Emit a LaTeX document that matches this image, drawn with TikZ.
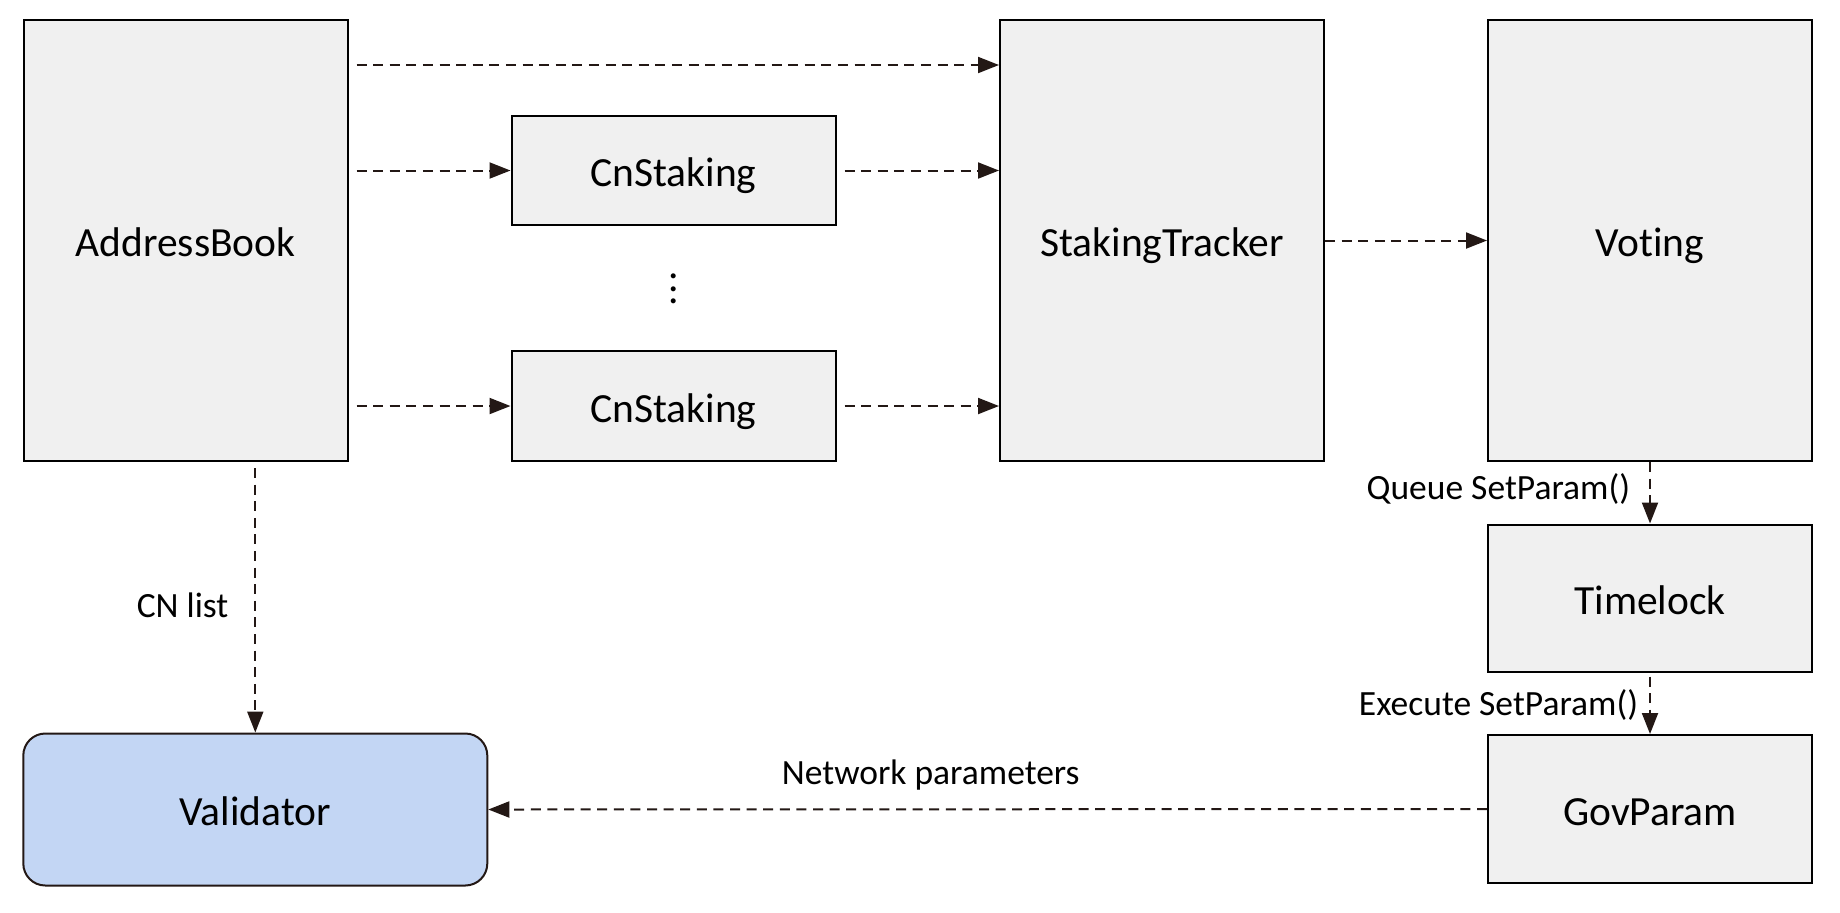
\documentclass[tikz,border=0pt]{standalone}
\usepackage{fontspec}
\setmainfont{Carlito}[Ligatures=NoCommon]
\usetikzlibrary{arrows.meta}
\definecolor{boxgray}{RGB}{240,240,240}
\definecolor{valblue}{RGB}{195,214,244}
\definecolor{arrowdark}{RGB}{35,24,21}

\begin{document}
\begin{tikzpicture}[x=0.5pt, y=-0.5pt,
    contract/.style={draw=black, fill=boxgray, line width=1pt, minimum width=162pt,
        font=\fontsize{20.75}{25}\selectfont, text height=16pt, text depth=0pt, inner sep=0pt},
    flow/.style={draw=arrowdark, line width=1pt, dash pattern=on 5pt off 3.3pt,
        -{Triangle[length=10.5pt,width=8pt]}},
    lbl/.style={font=\fontsize{17.75}{21}\selectfont, inner sep=0pt}]
    \useasboundingbox (0,0) rectangle (1840,912);

    % Contracts
    \node[contract, minimum height=220.5pt] (addr) at (185.5,240.5) {AddressBook};
    \node[contract, minimum height=54.5pt] (cnA) at (673.5,170.5) {CnStaking};
    \node[contract, minimum height=55pt] (cnB) at (673.5,406) {CnStaking};
    \node[font=\fontsize{20.75}{25}\selectfont, inner sep=0pt] (dots) at (674,289)
        {\vbox{\baselineskip=6.25pt\hbox{.}\hbox{.}\hbox{.}}};
    \node[contract, minimum height=220.5pt] (tracker) at (1162,240.5) {StakingTracker};
    \node[contract, minimum height=220.5pt] (voting) at (1650,240.5) {Voting};
    \node[contract, minimum height=73.5pt] (timelock) at (1650,598) {Timelock};
    \node[contract, minimum height=74pt] (govparam) at (1650,809) {GovParam};

    % Node
    \node[contract, draw=arrowdark, fill=valblue, rounded corners=11pt,
        minimum width=232pt, minimum height=76pt] (validator) at (255.3,809.5) {Validator};

    % Staking info
    \draw[flow, shorten <=4pt] ([yshift=-23pt]addr.north east) -- ([yshift=-23pt]tracker.north west);
    \draw[flow, shorten <=4pt] (addr.east |- cnA) -- (cnA.west);
    \draw[flow, shorten <=4pt] (addr.east |- cnB) -- (cnB.west);
    \draw[flow, shorten <=4pt] (cnA.east) -- (cnA -| tracker.west);
    \draw[flow, shorten <=4pt] (cnB.east) -- (cnB -| tracker.west);
    \draw[flow] (tracker.east) -- (voting.west);

    % Governance
    \draw[flow] (voting.south) -- node[lbl, pos=0.61, anchor=base east, xshift=-9.5pt] {Queue SetParam()} (timelock.north);
    \draw[flow, shorten <=2pt] (timelock.south) -- node[lbl, pos=0.70, anchor=base east, xshift=-5.5pt] {Execute SetParam()} (govparam.north);

    % To the validator
    \draw[flow, shorten <=3pt] (addr.south -| validator) -- node[lbl, pos=0.573, anchor=base east, xshift=-13pt] {CN list} (validator.north);
    \draw[flow] (govparam.west) -- node[lbl, pos=0.557, anchor=base, yshift=12.5pt] {Network parameters} (validator.east);
\end{tikzpicture}
\end{document}
